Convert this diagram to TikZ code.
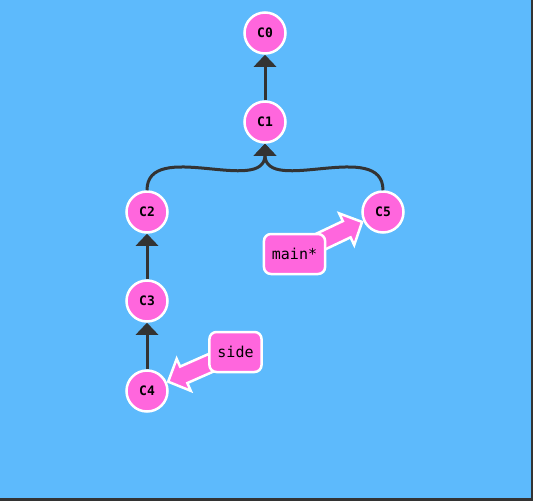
\documentclass[tikz,border=0pt]{standalone}
\usepackage{fontspec}
\setmonofont{DejaVu Sans Mono}
\usetikzlibrary{positioning, calc, arrows.meta, backgrounds}
\definecolor{canvas}{RGB}{93,186,252}
\definecolor{frame}{RGB}{51,51,51}
\definecolor{blob}{RGB}{255,102,221}
\pgfdeclarelayer{pointers}
\pgfsetlayers{background,pointers,main}
\tikzset{
commit/.style = {circle, draw = white, fill = blob, line width = 2.5pt, minimum size = 41pt,
   inner sep = 0pt, font = \ttfamily\bfseries\fontsize{13}{15}\selectfont},
branch/.style = {rectangle, draw = white, fill = blob, line width = 2.5pt, rounded corners = 7pt,
   minimum height = 40pt, inner xsep = 8pt, font = \ttfamily\fontsize{15}{18}\selectfont},
parent/.style = {-{Triangle[width = 22pt, length = 12pt]}, frame, line width = 3pt},
pointer/.style = {draw = white, fill = blob, line width = 2.5pt, line join = miter}
}
\begin{document}
\begin{tikzpicture}[x = 1pt, y = -1pt]
\useasboundingbox (0,0) rectangle (533,501);

%% Commits
\foreach \i/\x/\y in {0/265/33, 1/265/122, 2/147/212, 3/147/301, 4/147/391, 5/383/212}
   \node [commit] (c\i) at (\x,\y) {C\i};

%% Branch labels
\node [branch] (main) at (294.5,254) {main*};
\node [branch] (side) at (235.5,352) {side};

%% Parents
\foreach \a/\b in {1/0, 3/2, 4/3}
   \draw [parent] (c\a) -- (c\b);
\foreach \a in {2,5}
   \draw [parent] (c\a.north) .. controls +(0,-52) and +(0,52) .. (c1.south);

%% Branch pointers (fat arrows, tail hidden under the label)
\begin{pgfonlayer}{pointers}
\foreach \b/\t in {main/c5, side/c4}
   \draw [pointer] let \p1 = ($(\t)-(\b)$), \n1 = {veclen(\x1,\y1) - 23pt},
      \n2 = {atan2(\y1,\x1)} in [shift = {(\b.center)}, rotate = \n2]
      (0pt,-9pt) -- ({\n1-17pt},-9pt) -- ({\n1-17pt},-17.5pt) -- (\n1,0pt)
      -- ({\n1-17pt},17.5pt) -- ({\n1-17pt},9pt) -- (0pt,9pt) -- cycle;
\end{pgfonlayer}

%% Canvas
\begin{pgfonlayer}{background}
\fill [frame] (0,0) rectangle (533,501);
\fill [canvas] (0,0) rectangle (531,498);
\end{pgfonlayer}

\end{tikzpicture}
\end{document}
